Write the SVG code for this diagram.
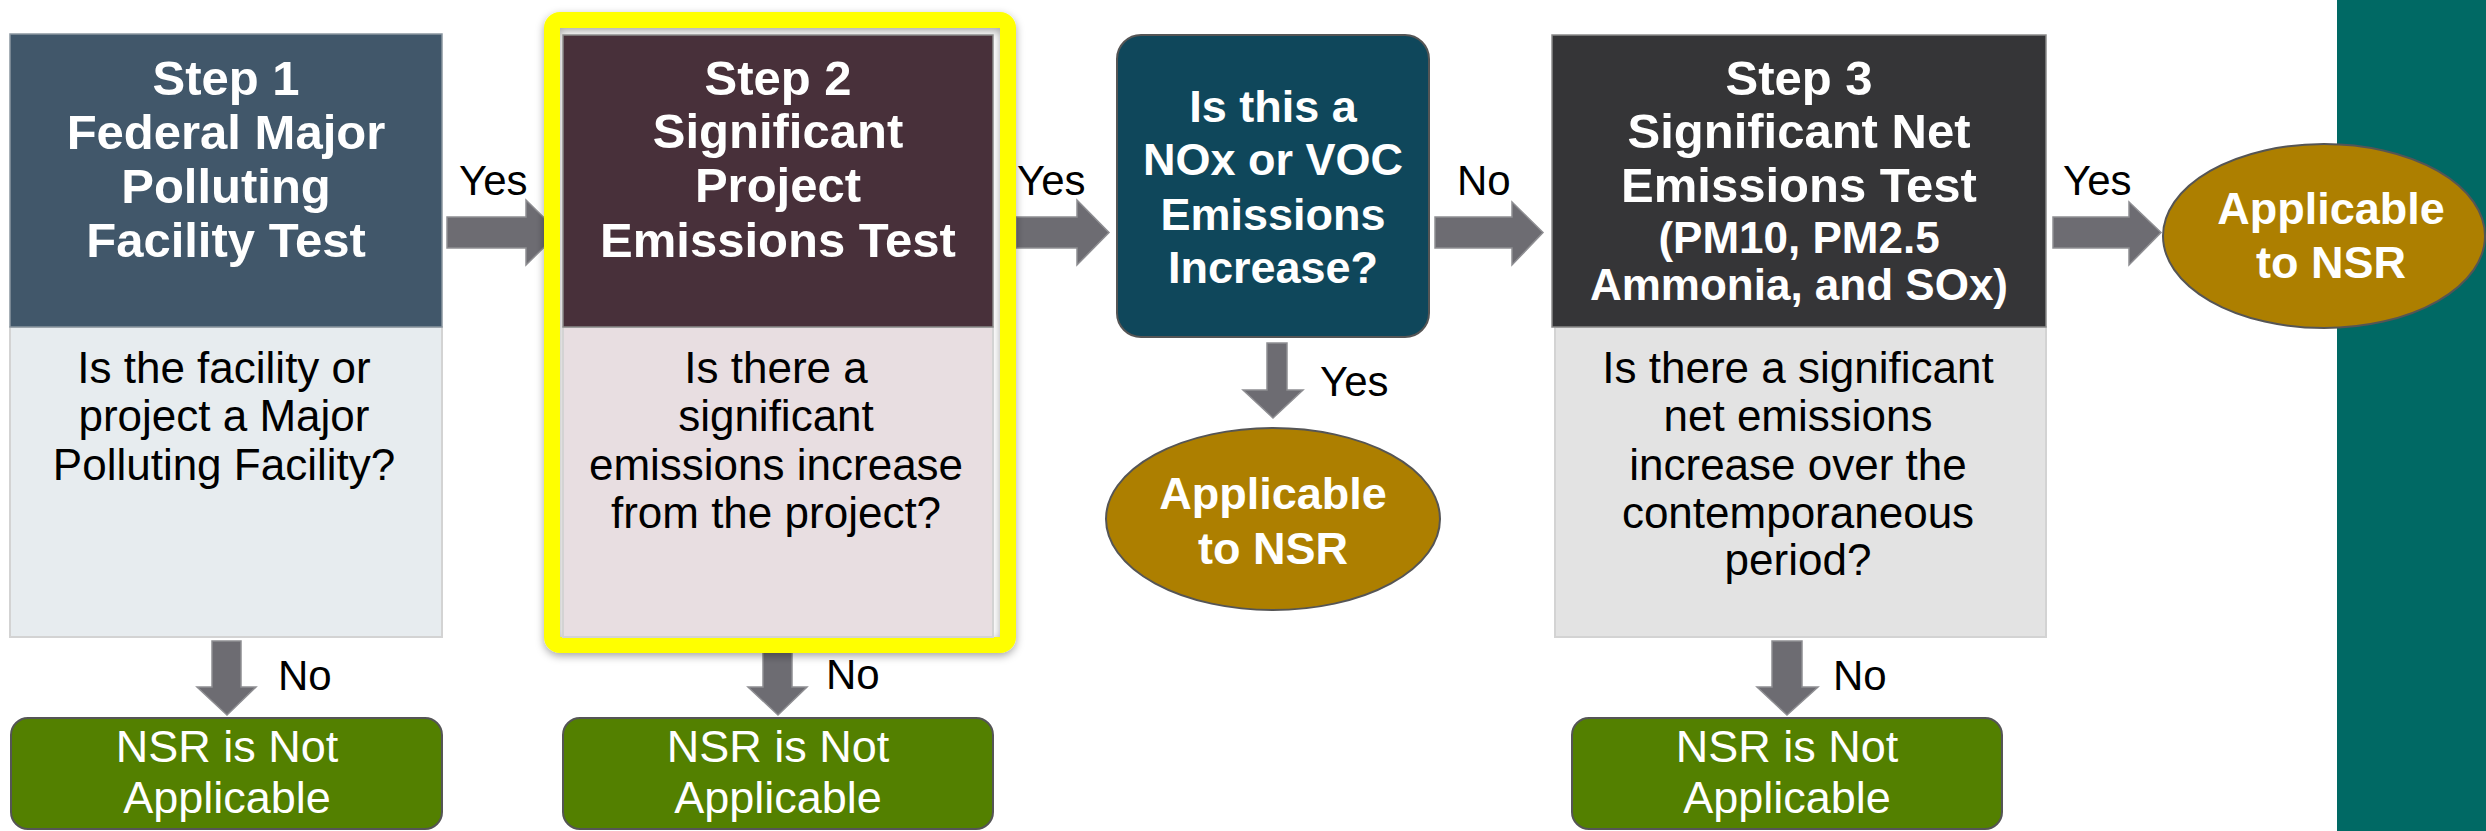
<svg xmlns="http://www.w3.org/2000/svg" width="2486" height="831" viewBox="0 0 2486 831">
<defs>
<style>
.hdr{font-family:"Liberation Sans",Arial,sans-serif;font-weight:bold;fill:#ffffff;text-anchor:middle;font-size:49px}
.hdrs{font-size:44px}
.body{font-family:"Liberation Sans",Arial,sans-serif;fill:#000000;text-anchor:middle;font-size:44px}
.lbl{font-family:"Liberation Sans",Arial,sans-serif;fill:#000000;font-size:42px}
.res{font-family:"Liberation Sans",Arial,sans-serif;fill:#ffffff;text-anchor:middle;font-size:45px}
.resb{font-weight:bold}
.arrow{fill:#6D6C72;stroke:#8E8E92;stroke-width:1.5}
.green{fill:#538000;stroke:#555555;stroke-width:2}
.gold{fill:#AD7F00;stroke:#555555;stroke-width:2}
.bodybox{stroke:#D3D3D3;stroke-width:2}
</style>
<filter id="shadow" x="-10%" y="-10%" width="120%" height="120%">
<feDropShadow dx="0" dy="3" stdDeviation="4" flood-color="#000000" flood-opacity="0.35"/>
</filter>
</defs>
<rect x="0" y="0" width="2486" height="831" fill="#ffffff"/>
<rect id="band" x="2337" y="0" width="149" height="831" fill="#006964"/>

<g id="connectors">
<polygon class="arrow" points="447,217 526,217 526,200 559,232.5 526,265 526,248 447,248"/>
<polygon class="arrow" points="1016,217 1077,217 1077,200 1109,232.5 1077,265 1077,248 1016,248"/>
<polygon class="arrow" points="1435,217 1512,217 1512,202 1543,232.5 1512,265 1512,248 1435,248"/>
<polygon class="arrow" points="2053,217 2129,217 2129,202 2161,232.5 2129,265 2129,248 2053,248"/>
<polygon class="arrow" points="1267,343 1287,343 1287,390 1303,390 1273,418 1243,390 1267,390"/>
<polygon class="arrow" points="212,641 241,641 241,687 256,687 227,715 197,687 212,687"/>
<polygon class="arrow" points="763,645 792,645 792,687 807,687 778,715 748,687 763,687"/>
<polygon class="arrow" points="1772,641 1802,641 1802,687 1818,687 1787,715 1757,687 1772,687"/>
<text class="lbl" x="459" y="195">Yes</text>
<text class="lbl" x="1017" y="195">Yes</text>
<text class="lbl" x="1457" y="195">No</text>
<text class="lbl" x="2063" y="195">Yes</text>
<text class="lbl" x="1320" y="396">Yes</text>
<text class="lbl" x="278" y="690">No</text>
<text class="lbl" x="826" y="689">No</text>
<text class="lbl" x="1833" y="690">No</text>
</g>

<g id="step1">
<rect class="bodybox" x="10" y="327" width="432" height="310" fill="#E7ECEF"/>
<rect x="10" y="34" width="432" height="293" fill="#41576A" stroke="#8A96A0" stroke-width="1.5"/>
<text class="hdr" x="226" y="95">Step 1</text>
<text class="hdr" x="226" y="149">Federal Major</text>
<text class="hdr" x="226" y="203">Polluting</text>
<text class="hdr" x="226" y="257">Facility Test</text>
<text class="body" x="224" y="383">Is the facility or</text>
<text class="body" x="224" y="431">project a Major</text>
<text class="body" x="224" y="480">Polluting Facility?</text>
</g>

<g id="step2">
<rect x="552" y="20" width="456" height="625" rx="8" fill="none" stroke="#FFFF00" stroke-width="16" filter="url(#shadow)"/>
<rect class="bodybox" x="563" y="327" width="430" height="310" fill="#E8DEE1" stroke="#B8B8B8"/>
<rect x="563" y="35" width="430" height="292" fill="#48303A" stroke="#8A8A8A" stroke-width="1.5"/>
<text class="hdr" x="778" y="95">Step 2</text>
<text class="hdr" x="778" y="148">Significant</text>
<text class="hdr" x="778" y="202">Project</text>
<text class="hdr" x="778" y="257">Emissions Test</text>
<text class="body" x="776" y="383">Is there a</text>
<text class="body" x="776" y="431">significant</text>
<text class="body" x="776" y="480">emissions increase</text>
<text class="body" x="776" y="528">from the project?</text>
</g>

<g id="nox">
<rect x="1117" y="35" width="312" height="302" rx="24" fill="#0F475B" stroke="#555555" stroke-width="2"/>
<text class="hdr" x="1273" y="122" style="font-size:45px">Is this a</text>
<text class="hdr" x="1273" y="175" style="font-size:45px">NOx or VOC</text>
<text class="hdr" x="1273" y="230" style="font-size:45px">Emissions</text>
<text class="hdr" x="1273" y="283" style="font-size:45px">Increase?</text>
</g>

<g id="applicable1">
<ellipse class="gold" cx="1273" cy="519" rx="167" ry="91"/>
<text class="res resb" x="1273" y="509">Applicable</text>
<text class="res resb" x="1273" y="564">to NSR</text>
</g>

<g id="step3">
<rect class="bodybox" x="1555" y="327" width="491" height="310" fill="#E3E3E3"/>
<rect x="1552" y="35" width="494" height="292" fill="#353537" stroke="#8A8A8A" stroke-width="1.5"/>
<text class="hdr" x="1799" y="95">Step 3</text>
<text class="hdr" x="1799" y="148">Significant Net</text>
<text class="hdr" x="1799" y="202">Emissions Test</text>
<text class="hdr hdrs" x="1799" y="253">(PM10, PM2.5</text>
<text class="hdr hdrs" x="1799" y="300">Ammonia, and SOx)</text>
<text class="body" x="1798" y="383">Is there a significant</text>
<text class="body" x="1798" y="431">net emissions</text>
<text class="body" x="1798" y="480">increase over the</text>
<text class="body" x="1798" y="528">contemporaneous</text>
<text class="body" x="1798" y="575">period?</text>
</g>

<g id="applicable2">
<ellipse class="gold" cx="2324" cy="236" rx="161" ry="92"/>
<text class="res resb" x="2331" y="224">Applicable</text>
<text class="res resb" x="2331" y="278">to NSR</text>
</g>

<g id="notapp1">
<rect class="green" x="11" y="718" width="431" height="111" rx="17"/>
<text class="res" x="227" y="762">NSR is Not</text>
<text class="res" x="227" y="813">Applicable</text>
</g>

<g id="notapp2">
<rect class="green" x="563" y="718" width="430" height="111" rx="17"/>
<text class="res" x="778" y="762">NSR is Not</text>
<text class="res" x="778" y="813">Applicable</text>
</g>

<g id="notapp3">
<rect class="green" x="1572" y="718" width="430" height="111" rx="17"/>
<text class="res" x="1787" y="762">NSR is Not</text>
<text class="res" x="1787" y="813">Applicable</text>
</g>
</svg>
